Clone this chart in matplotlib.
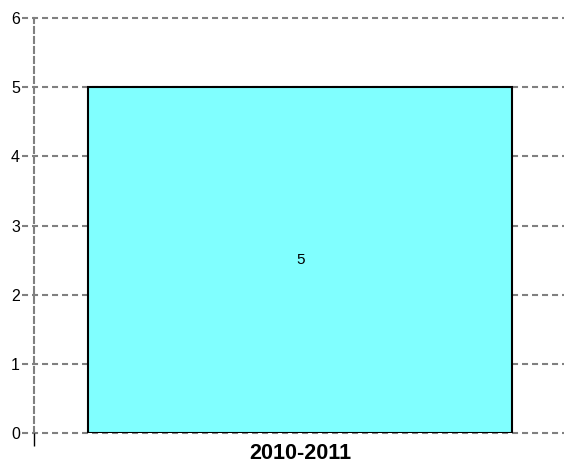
import matplotlib
matplotlib.use("Agg")
import matplotlib.pyplot as plt
import matplotlib.transforms as mtransforms

categories = ["2010-2011"]
values = [5]
yticks = [0, 1, 2, 3, 4, 5, 6]

plt.rcParams['font.family'] = ['Liberation Sans', 'DejaVu Sans']
fig = plt.figure(figsize=(5.64, 4.67), dpi=100)
ax_w = 530 / 564
ax = fig.add_axes([34/564, 1 - 433/467, ax_w, (433 - 18)/467])

dash = (0, (2.9, 1.9))
grid_color = '#808080'

x = list(range(len(categories)))
ax.bar(x, values, width=1.0, color='#80ffff', edgecolor='black', linewidth=1.5, zorder=3)
for xi, v in zip(x, values):
    ax.text(xi, v / 2, str(v), ha='center', va='center', fontsize=11, zorder=4)

ax.set_xlim(-0.628, 0.622)
ax.set_ylim(0, 6)

# horizontal grid lines extending slightly left of the axis as dashed ticks
trans = mtransforms.blended_transform_factory(ax.transAxes, ax.transData)
for t in yticks:
    ax.plot([-12/530, 1.0], [t, t], transform=trans, color=grid_color,
            linestyle=dash, linewidth=1.5, zorder=1, clip_on=False)

ax.set_yticks(yticks)
ax.set_yticklabels([str(t) for t in yticks], fontsize=11.5)
ax.tick_params(axis='y', length=0, pad=10)

ax.set_xticks(x)
ax.set_xticklabels(categories, fontsize=15.5, fontweight='bold')
ax.tick_params(axis='x', length=0, pad=7)
ax.set_xticks([-0.628], minor=True)
ax.tick_params(axis='x', which='minor', length=9.4, width=1.0, color='black')

for s in ['top', 'right', 'bottom']:
    ax.spines[s].set_visible(False)
ax.spines['left'].set_color(grid_color)
ax.spines['left'].set_linestyle(dash)
ax.spines['left'].set_linewidth(1.5)
ax.spines['left'].set_zorder(0.5)

fig.savefig("out.png", dpi=100)
